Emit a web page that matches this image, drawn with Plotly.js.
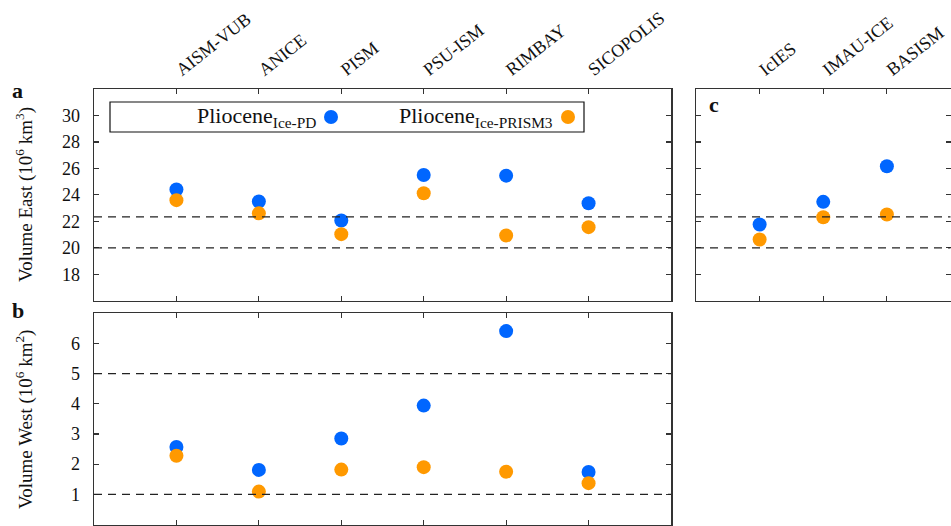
<!DOCTYPE html>
<html><head><meta charset="utf-8">
<script src="https://cdn.plot.ly/plotly-3.0.1.min.js"></script>
<style>html,body{margin:0;padding:0;background:#fff}</style>
</head><body>
<div id="chart" style="width:951px;height:526px"></div>
<script>
// Data
const modelsAB = ['AISM-VUB','ANICE','PISM','PSU-ISM','RIMBAY','SICOPOLIS'];
const modelsC = ['IcIES','IMAU-ICE','BASISM'];
const eastPD = [24.4, 23.5, 22.06, 25.5, 25.45, 23.37];
const eastPRISM = [23.6, 22.6, 21.03, 24.12, 20.93, 21.56];
const westPD = [2.57, 1.81, 2.85, 3.94, 6.41, 1.74];
const westPRISM = [2.28, 1.09, 1.82, 1.90, 1.75, 1.37];
const eastPD_c = [21.76, 23.47, 26.16];
const eastPRISM_c = [20.63, 22.31, 22.52];
const eastRef = [20, 22.34];
const westRef = [1, 5];
const seriesNames = ['Pliocene<sub>Ice-PD</sub>', 'Pliocene<sub>Ice-PRISM3</sub>'];

const W = 951, H = 526;
const blue = '#0066ff', orange = '#ff9900';
const FONT = '"Liberation Serif", "Times New Roman", serif';
const idxAB = modelsAB.map((_, i) => i + 1);
const idxC = modelsC.map((_, i) => i + 1);

function mk(x, y, color, xa, ya, name) {
  return {type:'scatter', mode:'markers', x, y, xaxis:xa, yaxis:ya, name,
    marker:{size:14, color}, showlegend:false, hoverinfo:'x+y'};
}
const traces = [
  mk(idxAB, eastPD, blue, 'x', 'y', 'PD'),
  mk(idxAB, eastPRISM, orange, 'x', 'y', 'PRISM3'),
  mk(idxAB, westPD, blue, 'x2', 'y2', 'PD'),
  mk(idxAB, westPRISM, orange, 'x2', 'y2', 'PRISM3'),
  mk(idxC, eastPD_c, blue, 'x3', 'y3', 'PD'),
  mk(idxC, eastPRISM_c, orange, 'x3', 'y3', 'PRISM3'),
];

const px = v => v / W;
const py = v => 1 - v / H;
const axCommon = {showline:true, linecolor:'#333', linewidth:1.5, mirror:'ticks',
  ticks:'inside', ticklen:5, tickcolor:'#333', tickwidth:1.2, showgrid:false, zeroline:false,
  tickfont:{family:FONT, size:18, color:'#111'}, fixedrange:true};

const domAB = [px(94), px(671)];
const domC = [px(696), px(950.5)];
const domA = [py(300.7), py(89)];
const domB = [py(524.5), py(313.3)];
const catFont = {family:FONT, size:18, color:'#111'};

const layout = {
  width:W, height:H, margin:{l:0,r:0,t:0,b:0},
  paper_bgcolor:'#fff', plot_bgcolor:'#fff',
  font:{family:FONT, color:'#111'},
  showlegend:false,
  xaxis: Object.assign({}, axCommon, {domain:domAB, anchor:'y', range:[0,7], side:'top',
    tickmode:'array', tickvals:idxAB, ticktext:modelsAB, tickangle:-38, ticklabelstandoff:2, tickfont:catFont}),
  yaxis: Object.assign({}, axCommon, {domain:domA, anchor:'x', range:[16,32], tickvals:[18,20,22,24,26,28,30],
    ticklabelstandoff:9}),
  xaxis2: Object.assign({}, axCommon, {domain:domAB, anchor:'y2', range:[0,7], tickmode:'array',
    tickvals:idxAB, showticklabels:false}),
  yaxis2: Object.assign({}, axCommon, {domain:domB, anchor:'x2', range:[0,7], tickvals:[1,2,3,4,5,6],
    ticklabelstandoff:9}),
  xaxis3: Object.assign({}, axCommon, {domain:domC, anchor:'y3', range:[0,4], side:'top',
    tickmode:'array', tickvals:idxC, ticktext:modelsC, tickangle:-38, ticklabelstandoff:2, tickfont:catFont}),
  yaxis3: Object.assign({}, axCommon, {domain:domA, anchor:'x3', range:[16,32], tickvals:[18,20,22,24,26,28,30],
    showticklabels:false}),
  shapes: [],
  annotations: []
};

const dash = {color:'#222', width:1.3, dash:'8px,6px'};
eastRef.forEach(v => {
  layout.shapes.push({type:'line', xref:'x domain', yref:'y', x0:0, x1:1, y0:v, y1:v, line:dash});
  layout.shapes.push({type:'line', xref:'x3 domain', yref:'y3', x0:0, x1:1, y0:v, y1:v, line:dash});
});
westRef.forEach(v => {
  layout.shapes.push({type:'line', xref:'x2 domain', yref:'y2', x0:0, x1:1, y0:v, y1:v, line:dash});
});

// Legend box
layout.shapes.push({type:'rect', xref:'paper', yref:'paper', x0:px(110), x1:px(584), y0:py(132), y1:py(102),
  line:{color:'#111', width:1.2}, fillcolor:'#fff', layer:'above'});
const legDots = [[331, blue], [568, orange]];
legDots.forEach(([cx, c]) => {
  layout.shapes.push({type:'circle', xref:'paper', yref:'paper', xsizemode:'pixel', ysizemode:'pixel',
    xanchor:px(cx), yanchor:py(117), x0:-7, x1:7, y0:-7, y1:7, line:{width:0}, fillcolor:c, layer:'above'});
});
layout.annotations.push(
  {xref:'paper', yref:'paper', x:px(318), y:py(117), xanchor:'right', yanchor:'middle', showarrow:false,
   text:seriesNames[0], font:{family:FONT, size:22, color:'#111'}},
  {xref:'paper', yref:'paper', x:px(555), y:py(117), xanchor:'right', yanchor:'middle', showarrow:false,
   text:seriesNames[1], font:{family:FONT, size:22, color:'#111'}}
);

// Axis titles
layout.annotations.push(
  {xref:'paper', yref:'paper', x:px(24), y:py(195), xanchor:'center', yanchor:'middle', textangle:-90,
   showarrow:false, text:'Volume East (10<sup>6</sup> km<sup>3</sup>)', font:{family:FONT, size:19, color:'#111'}},
  {xref:'paper', yref:'paper', x:px(24), y:py(420), xanchor:'center', yanchor:'middle', textangle:-90,
   showarrow:false, text:'Volume West (10<sup>6</sup> km<sup>2</sup>)', font:{family:FONT, size:19, color:'#111'}}
);
// Panel labels
const lab = (t, x, y) => ({xref:'paper', yref:'paper', x:px(x), y:py(y), xanchor:'left', yanchor:'middle',
  showarrow:false, text:'<b>'+t+'</b>', font:{family:FONT, size:22, color:'#111'}});
layout.annotations.push(lab('a', 10, 91), lab('b', 10, 310), lab('c', 707, 104));

Plotly.newPlot('chart', traces, layout, {staticPlot:true, displayModeBar:false});
</script>
</body></html>
